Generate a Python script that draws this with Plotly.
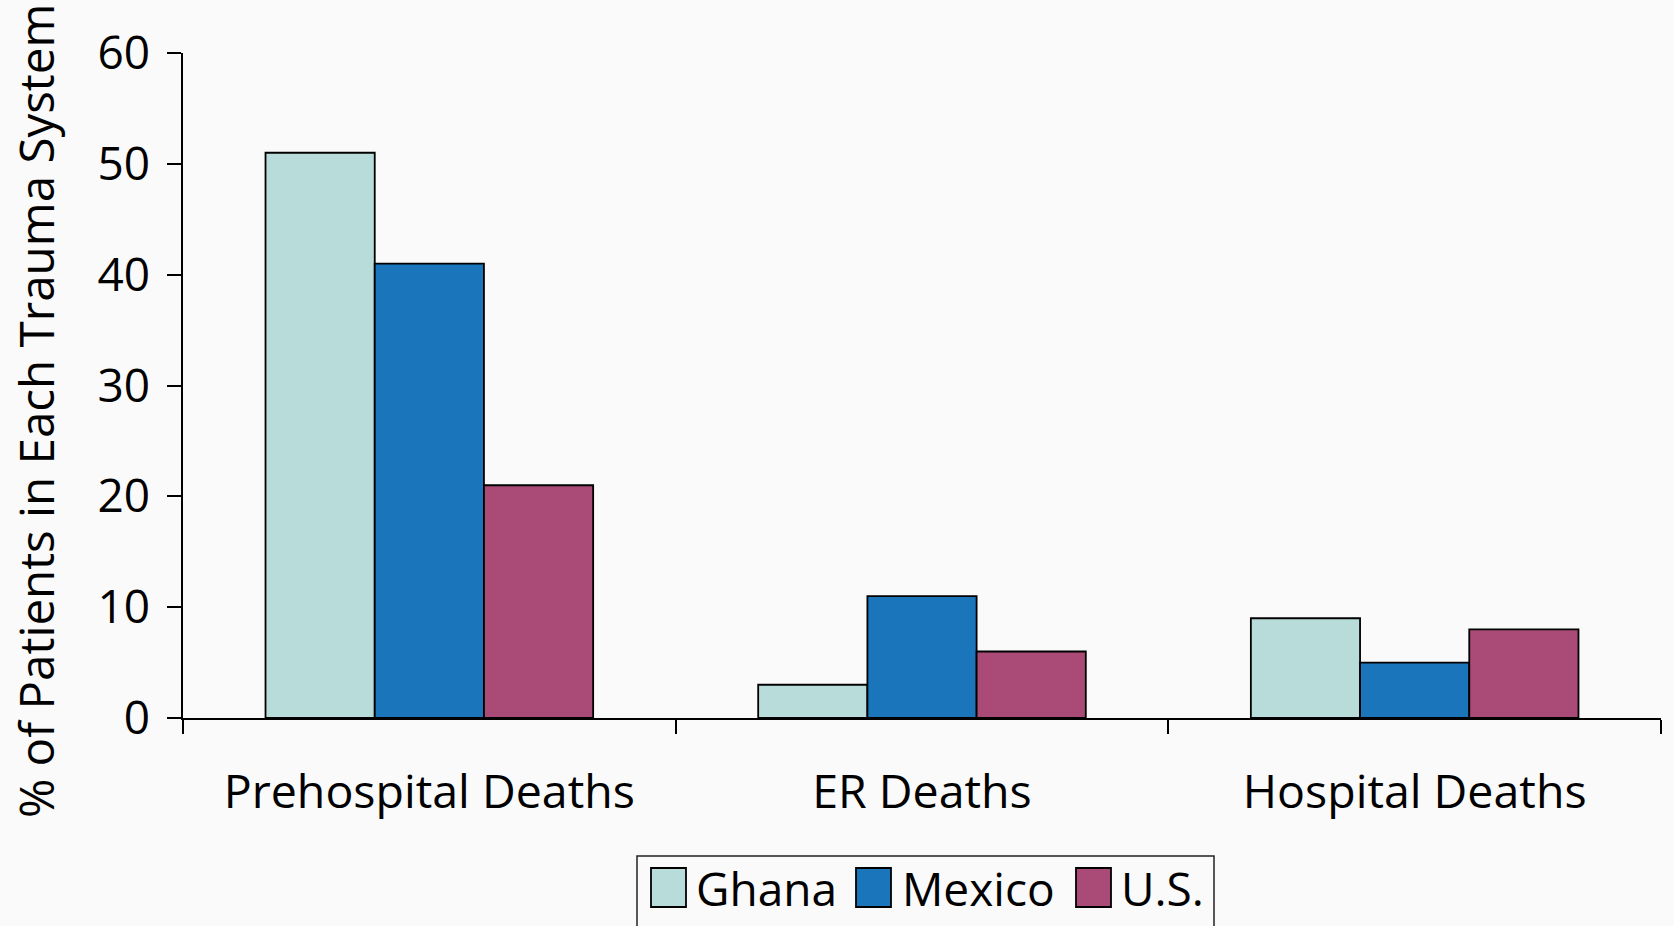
import plotly.graph_objects as go

categories = ["Prehospital Deaths", "ER Deaths", "Hospital Deaths"]
series_names = ["Ghana", "Mexico", "U.S."]
ghana = [51, 3, 9]
mexico = [41, 11, 5]
us = [21, 6, 8]
series_values = [ghana, mexico, us]
colors = ["#B7DCD9", "#1B75BB", "#AA4A76"]
y_ticks = [0, 10, 20, 30, 40, 50, 60]

W, H = 1674, 926
L, R, T, B = 183, 13, 53, 208
PW = W - L - R
PH = H - T - B


def px_x(px):
    return (px - L) / PW


def px_y(py):
    return (H - B - py) / PH


FONT = "Open Sans"
BG = "#FAFAFA"

fig = go.Figure()
for name, vals, col in zip(series_names, series_values, colors):
    fig.add_trace(go.Bar(
        x=categories, y=vals, name=name,
        marker=dict(color=col, line=dict(color="black", width=1.8)),
        showlegend=False,
    ))

fig.update_layout(
    width=W, height=H,
    margin=dict(l=L, r=R, t=T, b=B, pad=0),
    paper_bgcolor=BG, plot_bgcolor=BG,
    barmode="group", bargap=0.335, bargroupgap=0,
    font=dict(family=FONT, size=46, color="black"),
    xaxis=dict(
        showline=True, linecolor="black", linewidth=1.5,
        ticks="outside", ticklen=14, tickwidth=1.5, tickcolor="black",
        tickson="boundaries", showgrid=False, zeroline=False,
        tickfont=dict(family=FONT, size=46.5, color="black"),
        ticklabelstandoff=32,
    ),
    yaxis=dict(
        range=[0, 60], tickvals=y_ticks,
        showline=True, linecolor="black", linewidth=1.5,
        ticks="outside", ticklen=14, tickwidth=1.5, tickcolor="black",
        showgrid=False, zeroline=False,
        tickfont=dict(family=FONT, size=46, color="black"),
        ticklabelstandoff=8,
    ),
)

# y-axis title
fig.add_annotation(
    text="% of Patients in Each Trauma System",
    xref="paper", yref="paper", x=px_x(35), y=px_y(411),
    textangle=-90, showarrow=False, xanchor="center", yanchor="middle",
    font=dict(family=FONT, size=47.5, color="black"),
)

# custom legend
fig.add_shape(type="rect", xref="paper", yref="paper",
              x0=px_x(637), x1=px_x(1214), y0=px_y(856), y1=px_y(960),
              line=dict(color="#222222", width=1.5), fillcolor=BG, layer="above")
sw_left = [651, 856, 1076]
txt_left = [696, 902, 1121]
for name, col, sx, tx in zip(series_names, colors, sw_left, txt_left):
    fig.add_shape(type="rect", xref="paper", yref="paper",
                  x0=px_x(sx), x1=px_x(sx + 35), y0=px_y(868), y1=px_y(907),
                  line=dict(color="black", width=1.8), fillcolor=col, layer="above")
    fig.add_annotation(
        text=name, xref="paper", yref="paper", x=px_x(tx - 2), y=px_y(888),
        showarrow=False, xanchor="left", yanchor="middle",
        font=dict(family=FONT, size=46, color="black"),
    )

fig.write_html("out.html", config={"displayModeBar": False})
